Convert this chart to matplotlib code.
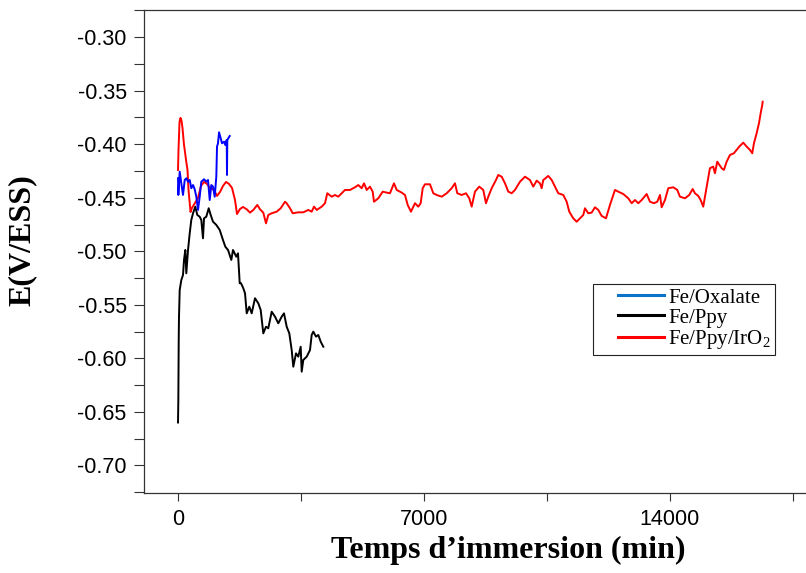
import matplotlib
matplotlib.use("Agg")
import matplotlib.pyplot as plt
from matplotlib.lines import Line2D
from matplotlib.legend_handler import HandlerLine2D
from matplotlib.ticker import MultipleLocator, FormatStrFormatter

plt.rcParams['axes.unicode_minus'] = False

# Fe/Oxalate
t_oxalate = [0, 10, 48, 94, 142, 191, 236, 285, 333, 378, 427, 475, 521, 569, 617, 663,
             740, 805, 854, 902, 948, 996, 1044, 1090, 1110, 1138, 1167, 1215, 1252, 1309,
             1346, 1386, 1394, 1403, 1471]
e_oxalate = [-0.4318, -0.4474, -0.4256, -0.4365, -0.4474, -0.4334, -0.4318, -0.4350, -0.4334,
             -0.4411, -0.4381, -0.4421, -0.4490, -0.4614, -0.4490, -0.4350, -0.4327, -0.4350,
             -0.4334, -0.4521, -0.4381, -0.4396, -0.4490, -0.4303, -0.4022, -0.3991, -0.3888,
             -0.3944, -0.3991, -0.3976, -0.4007, -0.3960, -0.4287, -0.3960, -0.3923]

# Fe/Ppy
t_ppy = [0, 9, 20, 28, 48, 94, 142, 171, 208, 236, 285, 333, 378, 427, 492, 549, 617, 663,
         711, 740, 805, 874, 930, 996, 1090, 1187, 1280, 1346, 1423, 1517, 1565, 1659, 1707,
         1756, 1793, 1858, 1907, 1955, 2029, 2097, 2191, 2285, 2353, 2427, 2504, 2569, 2666,
         2760, 2854, 2951, 3016, 3093, 3167, 3235, 3281, 3358, 3423, 3491, 3520, 3565, 3662,
         3756, 3804, 3850, 3927, 3992, 4061, 4135]
e_ppy = [-0.6600, -0.6390, -0.5829, -0.5611, -0.5362, -0.5269, -0.5222, -0.5081, -0.4988,
         -0.5206, -0.4988, -0.4832, -0.4708, -0.4645, -0.4583, -0.4661, -0.4677, -0.4708,
         -0.4879, -0.4692, -0.4677, -0.4598, -0.4661, -0.4724, -0.4754, -0.4801, -0.4895,
         -0.4957, -0.4988, -0.5081, -0.4988, -0.5051, -0.5019, -0.5299, -0.5299, -0.5346,
         -0.5393, -0.5580, -0.5518, -0.5580, -0.5439, -0.5486, -0.5549, -0.5767, -0.5705,
         -0.5720, -0.5565, -0.5611, -0.5673, -0.5611, -0.5580, -0.5705, -0.5767, -0.5923,
         -0.6079, -0.5954, -0.5985, -0.5892, -0.6125, -0.6016, -0.5985, -0.5923, -0.5782,
         -0.5751, -0.5798, -0.5782, -0.5845, -0.5892]

# Fe/Ppy/IrO2
t_iro2 = [0, 14, 43, 71, 100, 128, 171, 199, 228, 270, 299, 356, 398, 484, 569, 654, 740,
          825, 911, 1024, 1110, 1195, 1280, 1366, 1451, 1537, 1622, 1679, 1764, 1850, 1955,
          2049, 2143, 2257, 2333, 2427, 2504, 2569, 2666, 2809, 2922, 3045, 3093, 3187, 3264,
          3423, 3565, 3708, 3804, 3870, 3947, 4089, 4183, 4248, 4374, 4467, 4561, 4658, 4752,
          4894, 5037, 5130, 5227, 5293, 5370, 5463, 5540, 5577, 5700, 5825, 5939, 6032, 6146,
          6223, 6365, 6459, 6536, 6630, 6744, 6838, 6906, 6963, 7028, 7171, 7265, 7361, 7504,
          7646, 7788, 7882, 7948, 8073, 8195, 8289, 8357, 8451, 8573, 8687, 8764, 8830, 8926,
          9049, 9114, 9211, 9305, 9399, 9495, 9589, 9732, 9874, 10016, 10110, 10207, 10301,
          10349, 10395, 10537, 10634, 10728, 10822, 10964, 11061, 11135, 11248, 11345, 11439,
          11533, 11581, 11675, 11772, 11866, 11960, 12057, 12179, 12293, 12435, 12529, 12671,
          12813, 12910, 13004, 13098, 13195, 13337, 13431, 13545, 13639, 13716, 13764, 13858,
          13952, 14094, 14208, 14284, 14426, 14549, 14646, 14711, 14805, 14873, 14947, 14996,
          15061, 15137, 15231, 15280, 15346, 15471, 15536, 15613, 15707, 15821, 15898, 15972,
          16086, 16183, 16277, 16342, 16390, 16467, 16533, 16581, 16627, 16638]
e_iro2 = [-0.4240, -0.4053, -0.3792, -0.3754, -0.3782, -0.3848, -0.4007, -0.4072, -0.4147,
          -0.4240, -0.4427, -0.4633, -0.4595, -0.4549, -0.4502, -0.4390, -0.4352, -0.4371,
          -0.4408, -0.4427, -0.4483, -0.4446, -0.4390, -0.4352, -0.4371, -0.4408, -0.4521,
          -0.4652, -0.4605, -0.4586, -0.4608, -0.4639, -0.4614, -0.4567, -0.4608, -0.4639,
          -0.4739, -0.4661, -0.4645, -0.4630, -0.4598, -0.4537, -0.4552, -0.4598, -0.4645,
          -0.4636, -0.4636, -0.4614, -0.4630, -0.4583, -0.4614, -0.4583, -0.4551, -0.4458,
          -0.4490, -0.4474, -0.4490, -0.4458, -0.4427, -0.4427, -0.4402, -0.4381, -0.4411,
          -0.4365, -0.4427, -0.4396, -0.4443, -0.4537, -0.4505, -0.4443, -0.4452, -0.4458,
          -0.4365, -0.4427, -0.4452, -0.4474, -0.4567, -0.4630, -0.4551, -0.4583, -0.4551,
          -0.4411, -0.4374, -0.4374, -0.4458, -0.4474, -0.4490, -0.4458, -0.4411, -0.4365,
          -0.4458, -0.4474, -0.4458, -0.4505, -0.4583, -0.4443, -0.4396, -0.4427, -0.4551,
          -0.4490, -0.4411, -0.4334, -0.4287, -0.4303, -0.4365, -0.4443, -0.4458, -0.4427,
          -0.4350, -0.4303, -0.4334, -0.4396, -0.4340, -0.4365, -0.4411, -0.4334, -0.4296,
          -0.4334, -0.4396, -0.4458, -0.4474, -0.4537, -0.4630, -0.4692, -0.4724, -0.4692,
          -0.4661, -0.4598, -0.4645, -0.4639, -0.4589, -0.4614, -0.4670, -0.4692, -0.4567,
          -0.4427, -0.4443, -0.4465, -0.4505, -0.4551, -0.4521, -0.4551, -0.4521, -0.4465,
          -0.4537, -0.4551, -0.4537, -0.4474, -0.4589, -0.4521, -0.4411, -0.4402, -0.4427,
          -0.4490, -0.4505, -0.4474, -0.4418, -0.4458, -0.4483, -0.4521, -0.4583, -0.4490,
          -0.4365, -0.4224, -0.4209, -0.4271, -0.4163, -0.4224, -0.4240, -0.4163, -0.4100,
          -0.4084, -0.4053, -0.4022, -0.3985, -0.4022, -0.4053, -0.4084, -0.3991, -0.3897,
          -0.3804, -0.3710, -0.3633, -0.3602]

labels = ['Fe/Oxalate', 'Fe/Ppy', r'Fe/Ppy/IrO$_\mathregular{2}$']
legend_colors = ['#0A72C8', '#000000', '#FF0000']

fig = plt.figure(figsize=(8.06, 5.73), dpi=100)
ax = fig.add_axes([0.1787, 0.1396, 0.9032, 0.8421])

ax.plot(t_iro2, e_iro2, color='#FF0000', lw=1.4, zorder=2)
ax.plot(t_ppy, e_ppy, color='#000000', lw=1.4, zorder=3)
ax.plot(t_oxalate, e_oxalate, color='#0000FF', lw=1.4, zorder=4)

ax.set_xlim(-967, 19750)
ax.set_ylim(-0.7259, -0.2750)

ax.xaxis.set_major_locator(MultipleLocator(7000))
ax.xaxis.set_minor_locator(MultipleLocator(3500))
ax.yaxis.set_major_locator(MultipleLocator(0.05))
ax.yaxis.set_minor_locator(MultipleLocator(0.025))
ax.yaxis.set_major_formatter(FormatStrFormatter('%.2f'))

for side in ['left', 'bottom', 'top']:
    ax.spines[side].set_color('#333333')
    ax.spines[side].set_linewidth(0.9)
ax.spines['right'].set_visible(False)

ax.tick_params(axis='y', which='both', direction='out', length=7.5, width=0.8,
               color='#333333', pad=5)
ax.tick_params(axis='x', which='both', direction='out', length=5.5, width=0.8,
               color='#333333', pad=6)
for lab in ax.get_xticklabels() + ax.get_yticklabels():
    lab.set_fontfamily('Liberation Sans')
    lab.set_fontsize(15.5)

ax.set_xlabel('Temps d\u2019immersion (min)', fontfamily='Liberation Serif',
              fontweight='bold', fontsize=23)
ax.set_ylabel('E(V/ESS)', fontfamily='Liberation Serif', fontweight='bold', fontsize=23)
ax.xaxis.set_label_coords(0.5, -0.088)
ax.xaxis.label.set_va('top')
ax.yaxis.set_label_coords(-0.147, 0.524)

handles = [Line2D([], [], color=c, lw=2.2) for c in legend_colors]
leg = fig.legend(handles, labels, loc='upper left',
                 bbox_to_anchor=(593 / 806, 1 - 284 / 573),
                 bbox_transform=fig.transFigure,
                 prop={'family': 'Liberation Serif', 'size': 15},
                 frameon=True, fancybox=False, framealpha=1,
                 borderpad=0.2, labelspacing=0.02, handlelength=3.2,
                 handletextpad=0.2, borderaxespad=0,
                 handler_map={Line2D: HandlerLine2D(xpad=1.0)})
leg.get_frame().set_edgecolor('#222222')
leg.get_frame().set_linewidth(0.8)

fig.savefig('out.png', dpi=100)
